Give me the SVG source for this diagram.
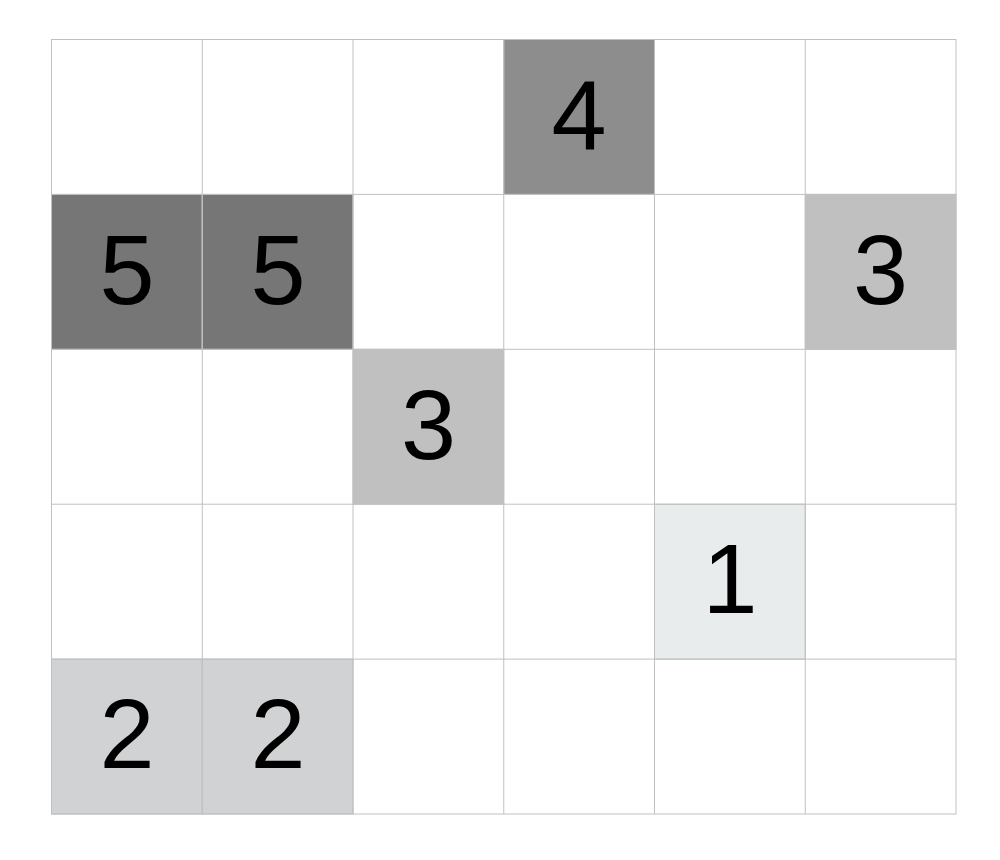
<svg xmlns="http://www.w3.org/2000/svg" width="1000" height="860" viewBox="0 0 1000 860">
<style>
.c{stroke:#c0c0c0;stroke-width:1}
.t{font-family:"Liberation Sans",Arial,sans-serif;font-size:99px;fill:#000;text-anchor:middle}
</style>
<rect width="1000" height="860" fill="#fff"/>
<g id="cells">
<rect class="c" x="503.75" y="39.5" width="150.75" height="154.9" fill="#8c8d8c"/>
<rect class="c" x="51.5" y="194.4" width="150.75" height="154.9" fill="#757675"/>
<rect class="c" x="202.25" y="194.4" width="150.75" height="154.9" fill="#757675"/>
<rect class="c" x="805.25" y="194.4" width="150.75" height="154.9" fill="#c0c0c0"/>
<rect class="c" x="353" y="349.3" width="150.75" height="154.9" fill="#c0c0c0"/>
<rect class="c" x="654.5" y="504.2" width="150.75" height="154.9" fill="#e8eced"/>
<rect class="c" x="51.5" y="659.1" width="150.75" height="154.9" fill="#d0d2d3"/>
<rect class="c" x="202.25" y="659.1" width="150.75" height="154.9" fill="#d0d2d3"/>
</g>
<g id="grid" class="c" fill="none">
<rect x="51.5" y="39.5" width="904.5" height="774.5"/>
<path d="M202.25 39.5V814M353 39.5V814M503.75 39.5V814M654.5 39.5V814M805.25 39.5V814M51.5 194.4H956M51.5 349.3H956M51.5 504.2H956M51.5 659.1H956"/>
</g>
<g id="labels" class="t">
<text x="579" y="149">4</text>
<text x="127" y="304">5</text>
<text x="278" y="304">5</text>
<text x="880.5" y="304">3</text>
<text x="428.5" y="459">3</text>
<text x="730" y="613">1</text>
<text x="127" y="768">2</text>
<text x="278" y="768">2</text>
</g>
</svg>
